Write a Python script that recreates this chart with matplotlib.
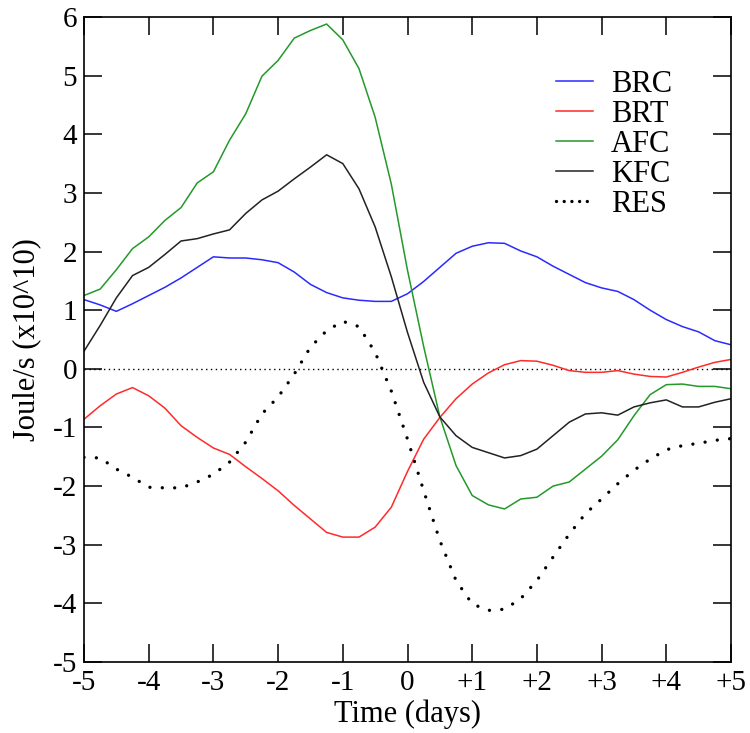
import matplotlib
matplotlib.use("Agg")
import matplotlib.pyplot as plt
from matplotlib.lines import Line2D

plt.rcParams['font.family'] = ['Liberation Serif', 'DejaVu Serif']

time_days = [-5.0, -4.75, -4.5, -4.25, -4.0, -3.75, -3.5, -3.25, -3.0, -2.75,
             -2.5, -2.25, -2.0, -1.75, -1.5, -1.25, -1.0, -0.75, -0.5, -0.25,
             0.0, 0.25, 0.5, 0.75, 1.0, 1.25, 1.5, 1.75, 2.0, 2.25,
             2.5, 2.75, 3.0, 3.25, 3.5, 3.75, 4.0, 4.25, 4.5, 4.75, 5.0]

brc = [1.18, 1.09, 0.98, 1.11, 1.25, 1.39, 1.55, 1.73, 1.91, 1.89,
       1.89, 1.86, 1.81, 1.65, 1.44, 1.30, 1.21, 1.17, 1.15, 1.15,
       1.28, 1.49, 1.73, 1.97, 2.09, 2.15, 2.14, 2.01, 1.91, 1.75,
       1.61, 1.47, 1.38, 1.32, 1.18, 1.00, 0.84, 0.72, 0.63, 0.48, 0.41]

brt = [-0.86, -0.63, -0.43, -0.32, -0.46, -0.67, -0.97, -1.17, -1.35, -1.46,
       -1.67, -1.87, -2.08, -2.33, -2.56, -2.79, -2.87, -2.87, -2.70, -2.36,
       -1.75, -1.20, -0.83, -0.51, -0.26, -0.07, 0.07, 0.14, 0.13, 0.06,
       -0.03, -0.06, -0.06, -0.03, -0.09, -0.13, -0.14, -0.06, 0.03, 0.11, 0.16]

afc = [1.25, 1.36, 1.69, 2.05, 2.25, 2.53, 2.75, 3.17, 3.36, 3.90,
       4.35, 4.99, 5.26, 5.64, 5.77, 5.88, 5.61, 5.12, 4.29, 3.15,
       1.68, 0.38, -0.82, -1.65, -2.16, -2.32, -2.39, -2.22, -2.19, -2.00,
       -1.93, -1.71, -1.49, -1.21, -0.80, -0.44, -0.27, -0.26, -0.30, -0.30, -0.34]

kfc = [0.30, 0.74, 1.21, 1.59, 1.73, 1.95, 2.18, 2.22, 2.30, 2.37,
       2.65, 2.88, 3.03, 3.24, 3.44, 3.65, 3.50, 3.07, 2.42, 1.57,
       0.62, -0.23, -0.82, -1.14, -1.34, -1.43, -1.52, -1.48, -1.37, -1.14,
       -0.91, -0.77, -0.75, -0.79, -0.65, -0.58, -0.53, -0.65, -0.65, -0.57, -0.51]

res = [-1.51, -1.52, -1.71, -1.85, -2.02, -2.03, -2.03, -1.93, -1.80, -1.59,
       -1.25, -0.77, -0.48, -0.09, 0.37, 0.65, 0.81, 0.72, 0.28, -0.38,
       -1.20, -2.08, -2.93, -3.61, -4.01, -4.12, -4.10, -3.92, -3.61, -3.21,
       -2.82, -2.47, -2.22, -1.96, -1.73, -1.54, -1.38, -1.31, -1.27, -1.22, -1.19]

xtick_vals = [-5, -4, -3, -2, -1, 0, 1, 2, 3, 4, 5]
xtick_labels = ['-5', '-4', '-3', '-2', '-1', '0', '+1', '+2', '+3', '+4', '+5']
ytick_vals = [-5, -4, -3, -2, -1, 0, 1, 2, 3, 4, 5, 6]
ytick_labels = ['-5', '-4', '-3', '-2', '-1', '0', '1', '2', '3', '4', '5', '6']

fig = plt.figure(figsize=(7.5, 7.33), dpi=100)
ax = fig.add_axes([84/750, 1 - 662/733, (731 - 84)/750, (662 - 17)/733])

ax.axhline(0, color='black', lw=1.0, linestyle=(0, (1, 2.5)), zorder=1)

h1, = ax.plot(time_days, brc, color='#2a2aff', lw=1.1, label='BRC')
h2, = ax.plot(time_days, brt, color='#ff2a2a', lw=1.1, label='BRT')
h3, = ax.plot(time_days, afc, color='#24992a', lw=1.1, label='AFC')
h4, = ax.plot(time_days, kfc, color='#222222', lw=1.1, label='KFC')
ax.plot(time_days, res, color='black', lw=2.4, linestyle=(0, (0.01, 3.7)),
        dash_capstyle='round', label='RES')
h5 = Line2D([], [], color='black', lw=2.4, linestyle=(0, (0.01, 2.3)),
            dash_capstyle='round')

ax.set_xlim(-5, 5)
ax.set_ylim(-5, 6)
ax.set_xticks(xtick_vals)
ax.set_xticklabels(xtick_labels)
ax.set_yticks(ytick_vals)
ax.set_yticklabels(ytick_labels)

ax.tick_params(direction='in', length=13, width=1.1, top=True, right=True,
               labelsize=21, colors='black')
ax.tick_params(axis='x', pad=6)
ax.tick_params(axis='y', pad=5)
for s in ax.spines.values():
    s.set_linewidth(1.2)

ax.set_xlabel('Time (days)', fontsize=22, labelpad=2)
ax.set_ylabel('Joule/s (x10^10)', fontsize=22, labelpad=8)

leg = ax.legend([h1, h2, h3, h4, h5], ['BRC', 'BRT', 'AFC', 'KFC', 'RES'],
                loc='upper left', bbox_to_anchor=(556/750, 1 - 70/733),
                bbox_transform=fig.transFigure, frameon=False, fontsize=22,
                handlelength=1.2, handletextpad=0.6, labelspacing=0.03,
                borderpad=0, borderaxespad=0)

fig.savefig('out.png', dpi=100)
